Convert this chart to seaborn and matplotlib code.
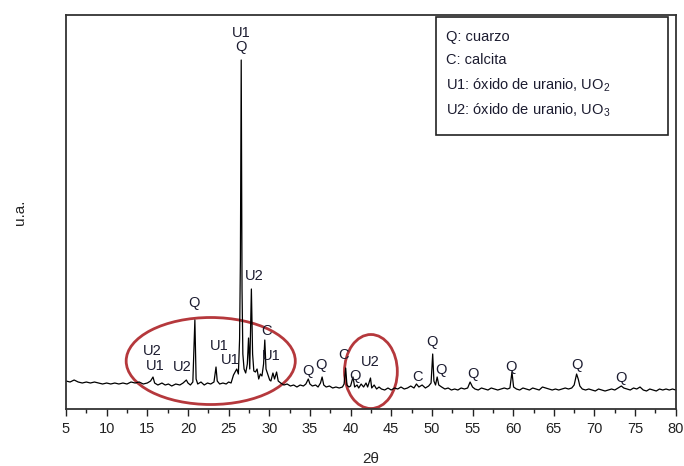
import matplotlib
matplotlib.use("Agg")
import matplotlib.pyplot as plt
from matplotlib.patches import Ellipse, Rectangle
import seaborn as sns
import pandas as pd

two_theta = [
    5.0, 5.5, 6.0, 6.5, 7.0, 7.5, 8.0, 8.5, 9.0, 9.5, 10.0, 10.5, 11.0, 11.5, 12.0, 12.5,
    13.0, 13.5, 14.0, 14.5, 15.0, 15.4, 15.7, 15.9, 16.3, 16.8, 17.2, 17.6, 18.0, 18.5,
    19.0, 19.4, 19.8, 20.0, 20.3, 20.6, 20.85, 21.0, 21.2, 21.6, 22.0, 22.4, 22.8, 23.2,
    23.45, 23.6, 23.9, 24.3, 24.7, 25.0, 25.3, 25.6, 25.8, 26.0, 26.2, 26.35, 26.45, 26.55,
    26.65, 26.75, 26.9, 27.1, 27.3, 27.45, 27.6, 27.8, 27.95, 28.1, 28.3, 28.5, 28.7, 28.9,
    29.1, 29.3, 29.45, 29.6, 29.85, 30.05, 30.2, 30.45, 30.65, 30.9, 31.1, 31.4, 31.8, 32.2,
    32.6, 33.0, 33.4, 33.8, 34.2, 34.5, 34.8, 35.0, 35.3, 35.7, 36.0, 36.3, 36.5, 36.7,
    37.0, 37.4, 37.8, 38.2, 38.6, 39.0, 39.2, 39.4, 39.55, 39.8, 40.0, 40.3, 40.5, 40.8,
    41.0, 41.3, 41.6, 41.9, 42.1, 42.45, 42.6, 42.9, 43.2, 43.5, 43.8, 44.2, 44.6, 45.0,
    45.4, 45.8, 46.2, 46.6, 47.0, 47.4, 47.8, 48.1, 48.4, 48.8, 49.2, 49.6, 49.9, 50.1,
    50.25, 50.45, 50.65, 50.85, 51.2, 51.6, 52.0, 52.4, 52.8, 53.2, 53.6, 54.0, 54.4, 54.7,
    55.0, 55.3, 55.7, 56.1, 56.5, 56.9, 57.3, 57.7, 58.1, 58.5, 58.9, 59.3, 59.6, 59.85,
    60.05, 60.4, 60.8, 61.2, 61.6, 62.0, 62.4, 62.8, 63.2, 63.6, 64.0, 64.4, 64.8, 65.2,
    65.6, 66.0, 66.4, 66.8, 67.2, 67.5, 67.8, 68.0, 68.2, 68.5, 68.9, 69.3, 69.7, 70.1,
    70.5, 70.9, 71.3, 71.7, 72.1, 72.5, 72.9, 73.3, 73.6, 74.0, 74.4, 74.8, 75.2, 75.6,
    76.0, 76.4, 76.8, 77.2, 77.6, 78.0, 78.4, 78.8, 79.2, 79.6, 80.0,
]
intensity = [
    28, 27, 29, 27, 26, 27, 26, 27, 26, 25, 26, 25, 26, 25, 26, 25,
    27, 26, 27, 25, 26, 28, 32, 26, 24, 26, 24, 25, 23, 25,
    24, 26, 29, 26, 24, 27, 89, 30, 25, 27, 24, 26, 25, 27,
    42, 28, 25, 26, 25, 27, 26, 34, 37, 40, 35, 70, 150, 349,
    120, 55, 40, 36, 45, 71, 40, 120, 55, 38, 37, 40, 30, 35,
    33, 45, 69, 40, 34, 29, 28, 36, 30, 37, 28, 26, 24, 25,
    23, 24, 22, 24, 23, 25, 30, 25, 23, 24, 22, 26, 32, 24,
    22, 23, 21, 22, 21, 22, 25, 41, 24, 22, 23, 32, 22, 24,
    21, 25, 22, 26, 22, 31, 21, 24, 20, 22, 20, 19, 21, 19,
    21, 20, 22, 20, 21, 23, 21, 25, 22, 24, 21, 23, 26, 55,
    28, 24, 32, 24, 22, 20, 21, 19, 20, 19, 21, 20, 21, 27,
    22, 20, 19, 21, 20, 19, 21, 20, 19, 20, 21, 20, 21, 37,
    22, 20, 19, 21, 20, 19, 21, 20, 19, 22, 21, 20, 19, 20,
    19, 20, 21, 20, 21, 24, 35, 30, 23, 20, 19, 20, 19, 18,
    20, 19, 18, 19, 20, 19, 21, 23, 21, 20, 19, 21, 20, 22,
    19, 18, 20, 19, 18, 20, 19, 20, 19, 20, 19,
]

# ---- phase labels on the peaks ----
peak_labels = ["U1", "Q", "U2", "Q", "C", "U1", "U1", "U1", "U2", "U1", "U2",
               "Q", "Q", "C", "U2", "Q", "C", "Q", "Q", "Q", "Q", "Q", "Q"]
label_theta = [26.5, 26.5, 28.1, 20.75, 29.6, 23.8, 25.2, 30.3, 15.6, 15.95, 19.25,
               34.8, 36.4, 39.1, 42.4, 40.5, 48.2, 50.0, 51.1, 55.05, 59.7, 67.85, 73.3]
label_int = [376, 362, 133, 106, 78, 63, 49, 53, 58, 43, 42,
             38, 44, 54, 47, 33, 32, 67, 39, 35, 42, 44, 31]

legend_lines = ["Q: cuarzo", "C: calcita",
                r"U1: óxido de uranio, UO$_2$", r"U2: óxido de uranio, UO$_3$"]
x_ticks = [5, 10, 15, 20, 25, 30, 35, 40, 45, 50, 55, 60, 65, 70, 75, 80]

sns.set_style("white")
plt.rcParams["font.family"] = ["Liberation Sans", "DejaVu Sans"]
plt.rcParams["mathtext.fontset"] = "custom"
plt.rcParams["mathtext.rm"] = "Liberation Sans"
plt.rcParams["mathtext.it"] = "Liberation Sans"

fig = plt.figure(figsize=(6.84, 4.66), dpi=100)
ax = fig.add_axes([0.0965, 0.1223, 0.8915, 0.8455])

df = pd.DataFrame({"2theta": two_theta, "I": intensity})
sns.lineplot(data=df, x="2theta", y="I", ax=ax, sort=False, estimator=None,
             color="black", linewidth=0.9)

ax.set_xlim(5, 80)
ax.set_ylim(0, 394)
ax.set_xticks(x_ticks)
ax.set_xticks([t + 2.5 for t in x_ticks[:-1]], minor=True)
ax.set_yticks([])
ax.tick_params(axis="x", which="major", direction="out", length=5, width=1.0,
               labelsize=10.5, pad=4, bottom=True, colors="#222222")
ax.tick_params(axis="x", which="minor", direction="out", length=3, width=1.0,
               bottom=True, colors="#222222")
for s in ax.spines.values():
    s.set_color("#333333")
    s.set_linewidth(1.3)

ax.set_xlabel("2θ", fontsize=11, labelpad=12)
ax.set_ylabel("u.a.", fontsize=11, labelpad=28)

for t, x, y in zip(peak_labels, label_theta, label_int):
    ax.text(x, y, t, ha="center", va="center", fontsize=10.5, color="#1c1c30")

# red ellipses
ax.add_patch(Ellipse((22.8, 48), 20.8, 87, fill=False, edgecolor="#b5383c", linewidth=2.0))
ax.add_patch(Ellipse((42.5, 37.5), 6.5, 74, fill=False, edgecolor="#b5383c", linewidth=2.0))

# legend box
ax.add_patch(Rectangle((0.6066, 0.695), 0.3804, 0.30, transform=ax.transAxes,
                       fill=True, facecolor="white", edgecolor="#222222", linewidth=1.2))
for i, line in enumerate(legend_lines):
    ax.text(0.623, [0.944, 0.886, 0.822, 0.759][i], line, transform=ax.transAxes,
            ha="left", va="center", fontsize=10.5, color="#1c1c30")

fig.savefig("out.png", dpi=100)
